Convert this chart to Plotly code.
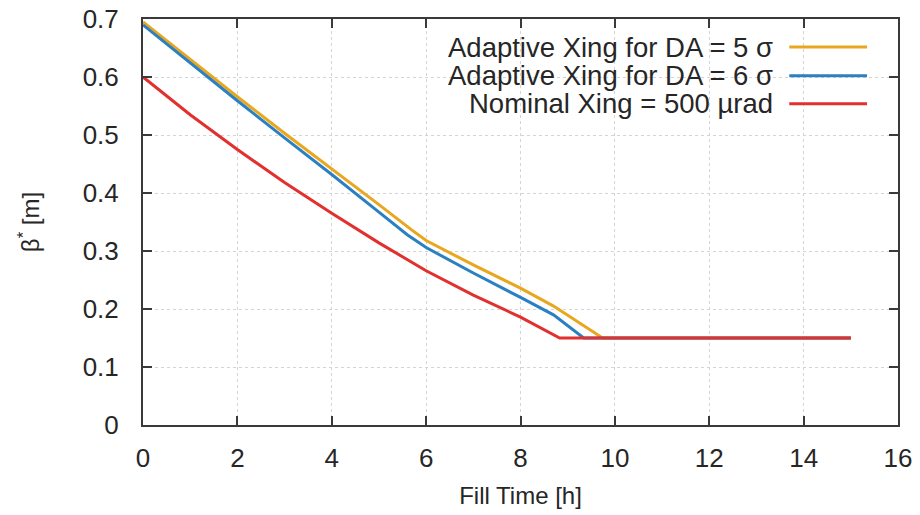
import plotly.graph_objects as go

# Data
t_da5 = [0, 1, 2, 3, 4, 5, 5.7, 6, 7, 8, 8.7, 9.74, 15]
beta_da5 = [0.695, 0.630, 0.566, 0.503, 0.442, 0.380, 0.336, 0.318, 0.276, 0.236, 0.205, 0.15, 0.15]

t_da6 = [0, 1, 2, 3, 4, 5, 5.6, 6, 7, 8, 8.7, 9.34, 15]
beta_da6 = [0.690, 0.624, 0.559, 0.495, 0.432, 0.367, 0.328, 0.306, 0.262, 0.220, 0.190, 0.15, 0.15]

t_nom = [0, 1, 2, 3, 4, 5, 6, 7, 8, 8.83, 15]
beta_nom = [0.600, 0.535, 0.475, 0.418, 0.365, 0.314, 0.266, 0.224, 0.186, 0.15, 0.15]

names = ["Adaptive Xing for DA = 5 σ", "Adaptive Xing for DA = 6 σ", "Nominal Xing = 500 µrad"]
colors = ["#E8A71E", "#2A80C2", "#E2302E"]

x_ticks = [0, 2, 4, 6, 8, 10, 12, 14, 16]
y_ticks = [0, 0.1, 0.2, 0.3, 0.4, 0.5, 0.6, 0.7]
y_tick_labels = ["0", "0.1", "0.2", "0.3", "0.4", "0.5", "0.6", "0.7"]

FONT = "Liberation Sans, Arial, sans-serif"
AX = "#3a3a3a"
TXT = "#262626"

fig = go.Figure()
for xs, ys, nm, col in [(t_da5, beta_da5, names[0], colors[0]),
                        (t_da6, beta_da6, names[1], colors[1]),
                        (t_nom, beta_nom, names[2], colors[2])]:
    fig.add_trace(go.Scatter(x=xs, y=ys, mode="lines", name=nm,
                             line=dict(color=col, width=3), showlegend=False))

axis_common = dict(showline=True, linecolor=AX, linewidth=2, mirror="ticks",
                   ticks="inside", ticklen=9, tickwidth=2, tickcolor=AX,
                   showgrid=True, gridcolor="#d4d4d4", griddash="dot", gridwidth=1,
                   zeroline=False, automargin=False, ticklabeloverflow="allow",
                   tickfont=dict(family=FONT, size=26, color=TXT))

fig.update_xaxes(range=[0, 16], tickvals=x_ticks, ticktext=[str(v) for v in x_ticks],
                 title=dict(text="Fill Time [h]", font=dict(family=FONT, size=24, color=TXT), standoff=15),
                 ticklabelstandoff=9, **axis_common)
fig.update_yaxes(range=[0, 0.7], tickvals=y_ticks, ticktext=y_tick_labels,
                 title=dict(text="β<sup>*</sup> [m]", font=dict(family=FONT, size=24, color=TXT), standoff=36),
                 ticklabelstandoff=17, **axis_common)

# gnuplot-style legend: right-aligned text with line sample on the right
leg_y = [0.931, 0.860, 0.791]
for nm, col, yy in zip(names, colors, leg_y):
    fig.add_annotation(x=0.835, y=yy, xref="paper", yref="paper", text=nm,
                       showarrow=False, xanchor="right", yanchor="middle",
                       xshift=2, font=dict(family=FONT, size=27.5, color=TXT))
    fig.add_shape(type="line", xref="paper", yref="paper", x0=0.856, x1=0.959, y0=yy, y1=yy,
                  line=dict(color=col, width=3))

# page body has an 8px margin, so the figure is sized to fit the 920x515 window
fig.update_layout(width=912, height=507, margin=dict(l=135, r=22, t=11, b=90),
                  plot_bgcolor="white", paper_bgcolor="white",
                  font=dict(family=FONT, color=TXT))

fig.write_html("out.html")
